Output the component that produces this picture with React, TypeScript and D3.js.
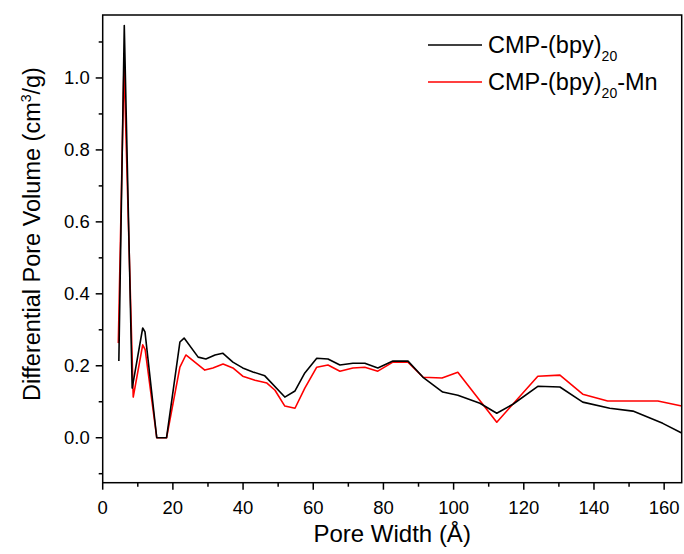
import React from "react";
import * as d3 from "d3";

const blackX = [4.6, 6.15, 8.4, 11.4, 12.05, 15.4, 18.2, 22.0, 23.2, 27.2, 29.4, 32.0, 34.2, 37.1, 39.9, 42.8, 46.2, 51.9, 54.8, 57.6, 61.0, 64.2, 67.6, 71.3, 74.7, 78.4, 82.7, 87.0, 91.3, 96.9, 101.2, 107.5, 112.3, 116.9, 124.0, 130.3, 136.8, 144.5, 151.1, 159.6, 165.0];
const blackY = [0.213, 1.146, 0.138, 0.305, 0.294, 0.0, 0.0, 0.266, 0.277, 0.224, 0.219, 0.23, 0.235, 0.21, 0.194, 0.183, 0.172, 0.113, 0.13, 0.18, 0.221, 0.219, 0.202, 0.207, 0.207, 0.194, 0.213, 0.213, 0.168, 0.127, 0.118, 0.096, 0.068, 0.093, 0.143, 0.141, 0.099, 0.082, 0.074, 0.04, 0.013];

const redX = [4.45, 6.07, 8.7, 11.4, 12.1, 15.4, 18.2, 22.0, 23.7, 29.1, 31.4, 34.3, 37.1, 39.9, 43.4, 46.8, 49.1, 51.9, 54.8, 57.6, 61.0, 64.2, 67.6, 71.3, 74.7, 78.4, 82.7, 87.0, 91.3, 96.7, 101.2, 112.3, 124.0, 130.3, 136.8, 143.9, 152.2, 158.2, 165.0];
const redY = [0.263, 1.037, 0.113, 0.258, 0.245, 0.0, 0.0, 0.196, 0.23, 0.188, 0.194, 0.205, 0.194, 0.171, 0.16, 0.152, 0.132, 0.088, 0.082, 0.138, 0.196, 0.202, 0.185, 0.194, 0.196, 0.185, 0.21, 0.21, 0.168, 0.166, 0.182, 0.043, 0.171, 0.174, 0.121, 0.102, 0.102, 0.102, 0.088];

const xMajor = [0, 20, 40, 60, 80, 100, 120, 140, 160];
const xMinor = [10, 30, 50, 70, 90, 110, 130, 150];
const yMajor = [0.0, 0.2, 0.4, 0.6, 0.8, 1.0];
const yMinor = [-0.1, 0.1, 0.3, 0.5, 0.7, 0.9, 1.1];

const seriesNames = ["CMP-(bpy)", "CMP-(bpy)"];
const FONT = "'Liberation Sans', Arial, Helvetica, sans-serif";

export default function App() {
  const L = 102.7, R = 681.7, T = 15, B = 482.7;
  const x = d3.scaleLinear().domain([0, 165]).range([L, R]);
  const y = d3.scaleLinear().domain([-0.125, 1.175]).range([B, T]);
  const line = d3.line<[number, number]>().x(d => x(d[0])).y(d => y(d[1]));
  const blackPts: [number, number][] = blackX.map((v, i) => [v, blackY[i]]);
  const redPts: [number, number][] = redX.map((v, i) => [v, redY[i]]);

  return (
    <div style={{ position: "absolute", left: 0, top: 0 }}>
      <svg width={684} height={554} style={{ display: "block", background: "#fff" }} fontFamily={FONT}>
        <rect x={0} y={0} width={684} height={554} fill="#fff" />
        <defs>
          <clipPath id="clip">
            <rect x={L} y={T} width={R - L} height={B - T} />
          </clipPath>
        </defs>
        <g clipPath="url(#clip)" fill="none" strokeLinejoin="round">
          <path d={line(redPts) || ""} stroke="#ff0000" strokeWidth={1.6} />
          <path d={line(blackPts) || ""} stroke="#000" strokeWidth={1.6} />
        </g>
        <rect x={L} y={T} width={R - L} height={B - T} fill="none" stroke="#000" strokeWidth={1.5} />
        {xMajor.map(v => (
          <g key={"xM" + v}>
            <line x1={x(v)} x2={x(v)} y1={B} y2={B + 7} stroke="#000" strokeWidth={1.5} />
            <text x={x(v)} y={513.5} fontSize={18.5} textAnchor="middle">{v}</text>
          </g>
        ))}
        {xMinor.map(v => (
          <line key={"xm" + v} x1={x(v)} x2={x(v)} y1={B} y2={B + 4} stroke="#000" strokeWidth={1.5} />
        ))}
        {yMajor.map(v => (
          <g key={"yM" + v}>
            <line x1={L} x2={L - 7} y1={y(v)} y2={y(v)} stroke="#000" strokeWidth={1.5} />
            <text x={L - 13} y={y(v)} dy="0.35em" fontSize={18.5} textAnchor="end">{v.toFixed(1)}</text>
          </g>
        ))}
        {yMinor.map(v => (
          <line key={"ym" + v} x1={L} x2={L - 4} y1={y(v)} y2={y(v)} stroke="#000" strokeWidth={1.5} />
        ))}
        <text x={(L + R) / 2} y={541.5} fontSize={24} textAnchor="middle">Pore Width (Å)</text>
        <text transform="translate(40,234) rotate(-90)" fontSize={23.5} textAnchor="middle">
          Differential Pore Volume (cm<tspan fontSize={14} dy={-9}>3</tspan><tspan dy={9}>/g)</tspan>
        </text>
        <g>
          <line x1={428} x2={482} y1={45} y2={45} stroke="#000" strokeWidth={1.6} />
          <text x={488} y={52.5} fontSize={23.5}>
            {seriesNames[0]}<tspan fontSize={14} dy={8}>20</tspan>
          </text>
          <line x1={428} x2={482} y1={82} y2={82} stroke="#ff0000" strokeWidth={1.6} />
          <text x={488} y={89.5} fontSize={23.5}>
            {seriesNames[1]}<tspan fontSize={14} dy={8}>20</tspan><tspan dy={-8}>-Mn</tspan>
          </text>
        </g>
      </svg>
    </div>
  );
}
